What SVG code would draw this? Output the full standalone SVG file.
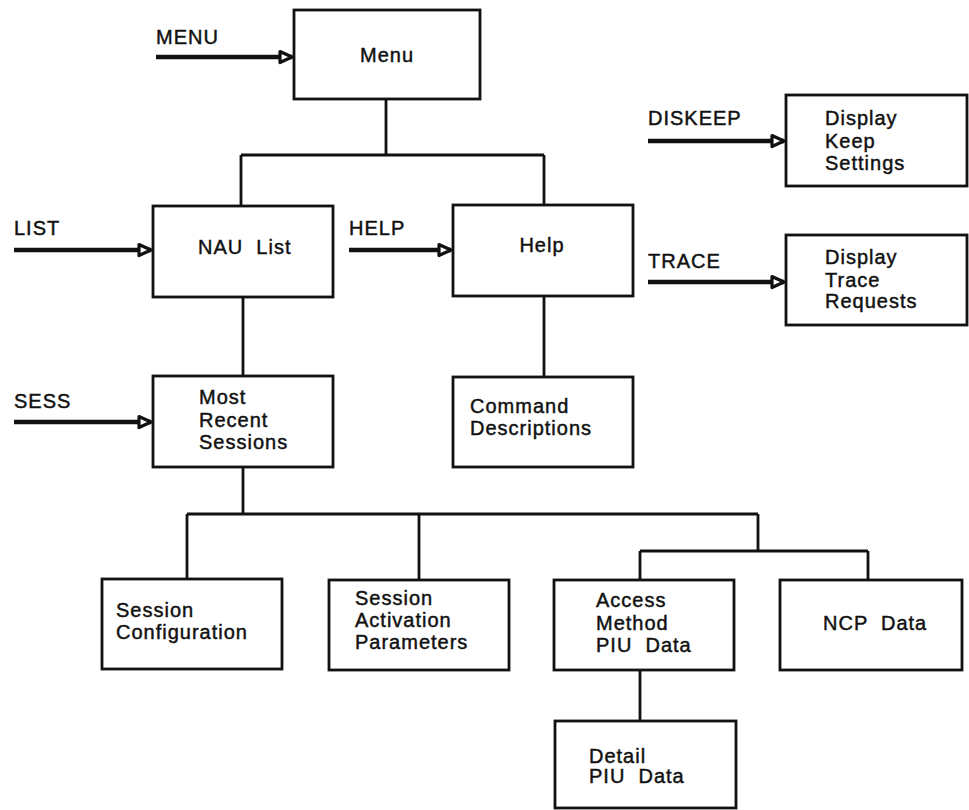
<svg xmlns="http://www.w3.org/2000/svg" width="969" height="810" viewBox="0 0 969 810">
<style>
.box{fill:#fff;stroke:#111;stroke-width:2.8}
.t{font-family:"Liberation Sans",Arial,Helvetica,sans-serif;font-size:20px;fill:#111;stroke:#111;stroke-width:0.45;letter-spacing:1px;white-space:pre}
.c{stroke:#111;stroke-width:2.8;fill:none}
.a{stroke:#111;stroke-width:4.5;fill:none}
</style>
<defs>
<marker id="arr" markerWidth="16" markerHeight="16" refX="14" refY="8" orient="auto" markerUnits="userSpaceOnUse">
<path d="M2,2.5 L14,8 L2,13.5 Z" fill="#fff" stroke="#111" stroke-width="3.2" stroke-linejoin="round"/>
</marker>
</defs>
<rect width="969" height="810" fill="#fff"/>
<g id="connectors">
<path class="c" d="M386,99 V155 M241,155 H544 M241,155 V206 M544,155 V205"/>
<path class="c" d="M243,297 V376 M544,296 V377"/>
<path class="c" d="M243,467 V514 M187,514 H758 M187,514 V579 M419,514 V580 M758,514 V551 M640,551 H868 M640,551 V580 M868,551 V580"/>
<path class="c" d="M640,670 V721"/>
<line class="a" x1="156" y1="57" x2="292" y2="57" marker-end="url(#arr)"/>
<line class="a" x1="14" y1="250" x2="151" y2="250" marker-end="url(#arr)"/>
<line class="a" x1="349" y1="250" x2="451" y2="250" marker-end="url(#arr)"/>
<line class="a" x1="14" y1="422" x2="151" y2="422" marker-end="url(#arr)"/>
<line class="a" x1="648" y1="141" x2="784" y2="141" marker-end="url(#arr)"/>
<line class="a" x1="648" y1="282" x2="784" y2="282" marker-end="url(#arr)"/>
<text class="t" x="156" y="44">MENU</text>
<text class="t" x="14" y="235">LIST</text>
<text class="t" x="349" y="235">HELP</text>
<text class="t" x="14" y="408">SESS</text>
<text class="t" x="648" y="125">DISKEEP</text>
<text class="t" x="648" y="268">TRACE</text>
</g>
<g id="menu">
<rect class="box" x="294" y="10" width="186" height="89"/>
<text class="t" x="387" y="62" text-anchor="middle">Menu</text>
</g>
<g id="nau-list">
<rect class="box" x="153" y="206" width="180" height="91"/>
<text class="t" x="198" y="254" xml:space="preserve">NAU  List</text>
</g>
<g id="help">
<rect class="box" x="453" y="205" width="180" height="91"/>
<text class="t" x="542" y="252" text-anchor="middle">Help</text>
</g>
<g id="most-recent-sessions">
<rect class="box" x="153" y="376" width="180" height="91"/>
<text class="t" x="199" y="404">Most</text>
<text class="t" x="199" y="427">Recent</text>
<text class="t" x="199" y="449">Sessions</text>
</g>
<g id="command-descriptions">
<rect class="box" x="453" y="377" width="180" height="90"/>
<text class="t" x="470" y="413">Command</text>
<text class="t" x="470" y="435">Descriptions</text>
</g>
<g id="display-keep-settings">
<rect class="box" x="786" y="95" width="181" height="91"/>
<text class="t" x="825" y="125">Display</text>
<text class="t" x="825" y="148">Keep</text>
<text class="t" x="825" y="170">Settings</text>
</g>
<g id="display-trace-requests">
<rect class="box" x="786" y="235" width="181" height="90"/>
<text class="t" x="825" y="264">Display</text>
<text class="t" x="825" y="287">Trace</text>
<text class="t" x="825" y="308">Requests</text>
</g>
<g id="session-configuration">
<rect class="box" x="102" y="579" width="180" height="90"/>
<text class="t" x="116" y="617">Session</text>
<text class="t" x="116" y="639">Configuration</text>
</g>
<g id="session-activation-parameters">
<rect class="box" x="329" y="580" width="180" height="90"/>
<text class="t" x="355" y="605">Session</text>
<text class="t" x="355" y="627">Activation</text>
<text class="t" x="355" y="649">Parameters</text>
</g>
<g id="access-method-piu-data">
<rect class="box" x="554" y="580" width="180" height="90"/>
<text class="t" x="596" y="607">Access</text>
<text class="t" x="596" y="630">Method</text>
<text class="t" x="596" y="652" xml:space="preserve">PIU  Data</text>
</g>
<g id="ncp-data">
<rect class="box" x="780" y="580" width="182" height="90"/>
<text class="t" x="823" y="630" xml:space="preserve">NCP  Data</text>
</g>
<g id="detail-piu-data">
<rect class="box" x="555" y="721" width="181" height="87"/>
<text class="t" x="589" y="763">Detail</text>
<text class="t" x="589" y="783" xml:space="preserve">PIU  Data</text>
</g>
</svg>
